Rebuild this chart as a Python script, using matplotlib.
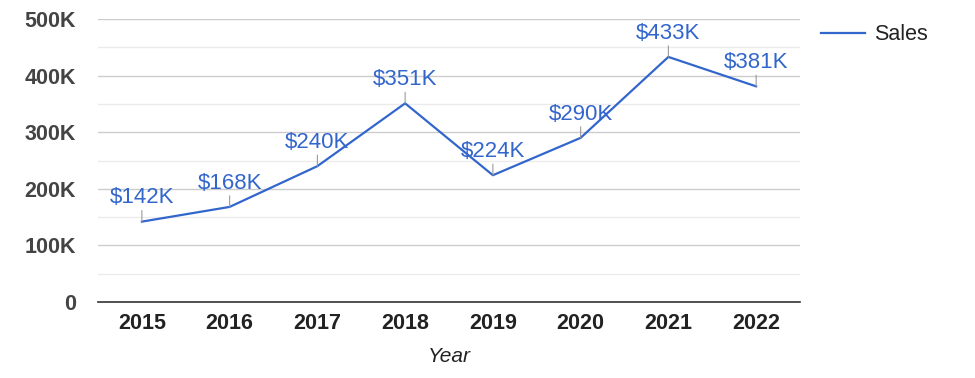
import matplotlib
matplotlib.use("Agg")
import matplotlib.pyplot as plt
from matplotlib.ticker import FixedLocator

years = ["2015", "2016", "2017", "2018", "2019", "2020", "2021", "2022"]
sales = [142000, 168000, 240000, 351000, 224000, 290000, 433000, 381000]
labels = ["$142K", "$168K", "$240K", "$351K", "$224K", "$290K", "$433K", "$381K"]
ytick_vals = [0, 100000, 200000, 300000, 400000, 500000]
ytick_labels = ["0", "100K", "200K", "300K", "400K", "500K"]

plt.rcParams['font.family'] = ['Liberation Sans', 'DejaVu Sans']
BLUE = "#3366cc"

fig = plt.figure(figsize=(9.75, 3.78), dpi=100)
ax = fig.add_axes([98/975, 1-302/378, 702/975, 283/378])

x = list(range(len(years)))
ax.plot(x, sales, color=BLUE, lw=1.6, label="Sales", zorder=3)

for xi, yi, lab in zip(x, sales, labels):
    ax.annotate("", xy=(xi, yi), xytext=(0, 8), textcoords="offset points",
                arrowprops=dict(arrowstyle="-", color="#999999", lw=0.8, shrinkA=0, shrinkB=0))
    ax.annotate(lab, xy=(xi, yi), xytext=(0, 9.5), textcoords="offset points",
                ha="center", va="bottom", color=BLUE, fontsize=16, zorder=4)

ax.set_xlim(-0.5, len(years) - 0.5)
ax.set_ylim(0, 500000)
ax.set_xticks(x)
ax.set_xticklabels(years, fontsize=15.5, fontweight="bold", color="#222222")
ax.yaxis.set_major_locator(FixedLocator(ytick_vals))
ax.set_yticklabels(ytick_labels, fontsize=15.5, fontweight="bold", color="#444444")
ax.yaxis.set_minor_locator(FixedLocator([50000, 150000, 250000, 350000, 450000]))
ax.tick_params(axis="both", which="both", length=0)
ax.tick_params(axis="y", pad=16)
ax.tick_params(axis="x", pad=8)
ax.grid(axis="y", which="major", color="#cccccc", lw=1)
ax.grid(axis="y", which="minor", color="#ebebeb", lw=1)
ax.set_axisbelow(True)
for s in ["top", "right", "left"]:
    ax.spines[s].set_visible(False)
ax.spines["bottom"].set_color("#333333")
ax.spines["bottom"].set_linewidth(1.2)

ax.set_xlabel("Year", fontsize=15, style="italic", color="#222222", labelpad=9)

leg = ax.legend(loc="upper left", bbox_to_anchor=(1.003, 1.05), frameon=False,
                fontsize=15.5, handlelength=2.0, handletextpad=0.45)
for t in leg.get_texts():
    t.set_color("#222222")

fig.savefig("out.png", dpi=100)
